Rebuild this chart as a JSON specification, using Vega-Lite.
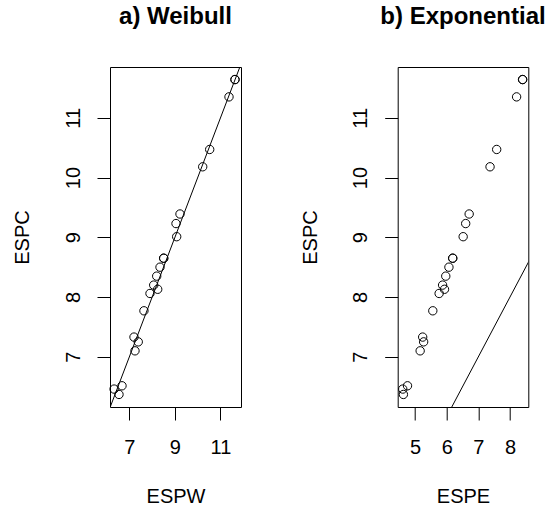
{
  "$schema": "https://vega.github.io/schema/vega-lite/v6.json",
  "padding": {"left": 12, "top": 4, "right": 0, "bottom": 0},
  "background": "white",
  "bounds": "flush",
  "spacing": 156.7,
  "datasets": {
    "pts": [
      {"ESPC": 6.37, "ESPW": 6.545, "ESPE": 4.63},
      {"ESPC": 6.46, "ESPW": 6.33, "ESPE": 4.61},
      {"ESPC": 6.515, "ESPW": 6.677, "ESPE": 4.76},
      {"ESPC": 7.10, "ESPW": 7.247, "ESPE": 5.16},
      {"ESPC": 7.25, "ESPW": 7.39, "ESPE": 5.27},
      {"ESPC": 7.33, "ESPW": 7.203, "ESPE": 5.24},
      {"ESPC": 7.77, "ESPW": 7.64, "ESPE": 5.56},
      {"ESPC": 8.06, "ESPW": 7.905, "ESPE": 5.76},
      {"ESPC": 8.13, "ESPW": 8.244, "ESPE": 5.93},
      {"ESPC": 8.20, "ESPW": 8.068, "ESPE": 5.87},
      {"ESPC": 8.35, "ESPW": 8.20, "ESPE": 5.97},
      {"ESPC": 8.50, "ESPW": 8.345, "ESPE": 6.07},
      {"ESPC": 8.65, "ESPW": 8.507, "ESPE": 6.19},
      {"ESPC": 8.65, "ESPW": 8.507, "ESPE": 6.19},
      {"ESPC": 9.01, "ESPW": 9.077, "ESPE": 6.52},
      {"ESPC": 9.23, "ESPW": 9.047, "ESPE": 6.60},
      {"ESPC": 9.39, "ESPW": 9.222, "ESPE": 6.71},
      {"ESPC": 10.18, "ESPW": 10.219, "ESPE": 7.37},
      {"ESPC": 10.47, "ESPW": 10.526, "ESPE": 7.58},
      {"ESPC": 11.35, "ESPW": 11.373, "ESPE": 8.21},
      {"ESPC": 11.64, "ESPW": 11.636, "ESPE": 8.40},
      {"ESPC": 11.64, "ESPW": 11.636, "ESPE": 8.40}
    ],
    "ref": [{"v": 4}, {"v": 13}]
  },
  "config": {
    "font": "Liberation Sans",
    "view": {"stroke": "black", "strokeWidth": 1},
    "axis": {
      "domain": false,
      "grid": false,
      "tickColor": "black",
      "tickWidth": 1,
      "tickSize": 13,
      "labelColor": "black",
      "labelFontSize": 20,
      "labelFont": "Liberation Sans",
      "labelFlush": false,
      "labelOverlap": false,
      "format": "d",
      "titleColor": "black",
      "titleFontSize": 20,
      "titleFontWeight": "normal",
      "titleFont": "Liberation Sans"
    },
    "axisX": {"labelBaseline": "alphabetic", "labelPadding": 33.7, "titleBaseline": "alphabetic", "titleY": 95},
    "axisY": {"labelAngle": -90, "labelAlign": "center", "labelBaseline": "alphabetic", "labelPadding": 18, "titleAngle": -90, "titleBaseline": "alphabetic", "titleX": -81.5, "titleY": 170},
    "title": {"fontSize": 24, "fontWeight": "bold", "font": "Liberation Sans", "color": "black", "anchor": "middle", "baseline": "alphabetic", "offset": 38}
  },
  "hconcat": [
    {
      "title": "a) Weibull",
      "width": 131,
      "height": 340,
      "layer": [
        {
          "data": {"name": "pts"},
          "mark": {"type": "point", "shape": "circle", "filled": false, "stroke": "black", "strokeWidth": 1, "size": 70, "opacity": 1},
          "encoding": {
            "x": {"field": "ESPW", "type": "quantitative", "scale": {"domain": [6.15, 11.9], "nice": false, "zero": false}, "axis": {"values": [7, 8, 9, 10, 11], "labelExpr": "datum.value % 2 == 1 ? datum.label : ''", "title": "ESPW"}},
            "y": {"field": "ESPC", "type": "quantitative", "scale": {"domain": [6.16, 11.85], "nice": false, "zero": false}, "axis": {"values": [7, 8, 9, 10, 11], "title": "ESPC"}}
          }
        },
        {
          "data": {"name": "ref"},
          "mark": {"type": "line", "color": "black", "strokeWidth": 1, "clip": true},
          "encoding": {
            "x": {"field": "v", "type": "quantitative"},
            "y": {"field": "v", "type": "quantitative"}
          }
        }
      ]
    },
    {
      "title": "b) Exponential",
      "width": 130.6,
      "height": 340,
      "layer": [
        {
          "data": {"name": "pts"},
          "mark": {"type": "point", "shape": "circle", "filled": false, "stroke": "black", "strokeWidth": 1, "size": 70, "opacity": 1},
          "encoding": {
            "x": {"field": "ESPE", "type": "quantitative", "scale": {"domain": [4.45, 8.58], "nice": false, "zero": false}, "axis": {"values": [5, 6, 7, 8], "title": "ESPE"}},
            "y": {"field": "ESPC", "type": "quantitative", "scale": {"domain": [6.16, 11.85], "nice": false, "zero": false}, "axis": {"values": [7, 8, 9, 10, 11], "title": "ESPC"}}
          }
        },
        {
          "data": {"name": "ref"},
          "mark": {"type": "line", "color": "black", "strokeWidth": 1, "clip": true},
          "encoding": {
            "x": {"field": "v", "type": "quantitative"},
            "y": {"field": "v", "type": "quantitative"}
          }
        }
      ]
    }
  ]
}
